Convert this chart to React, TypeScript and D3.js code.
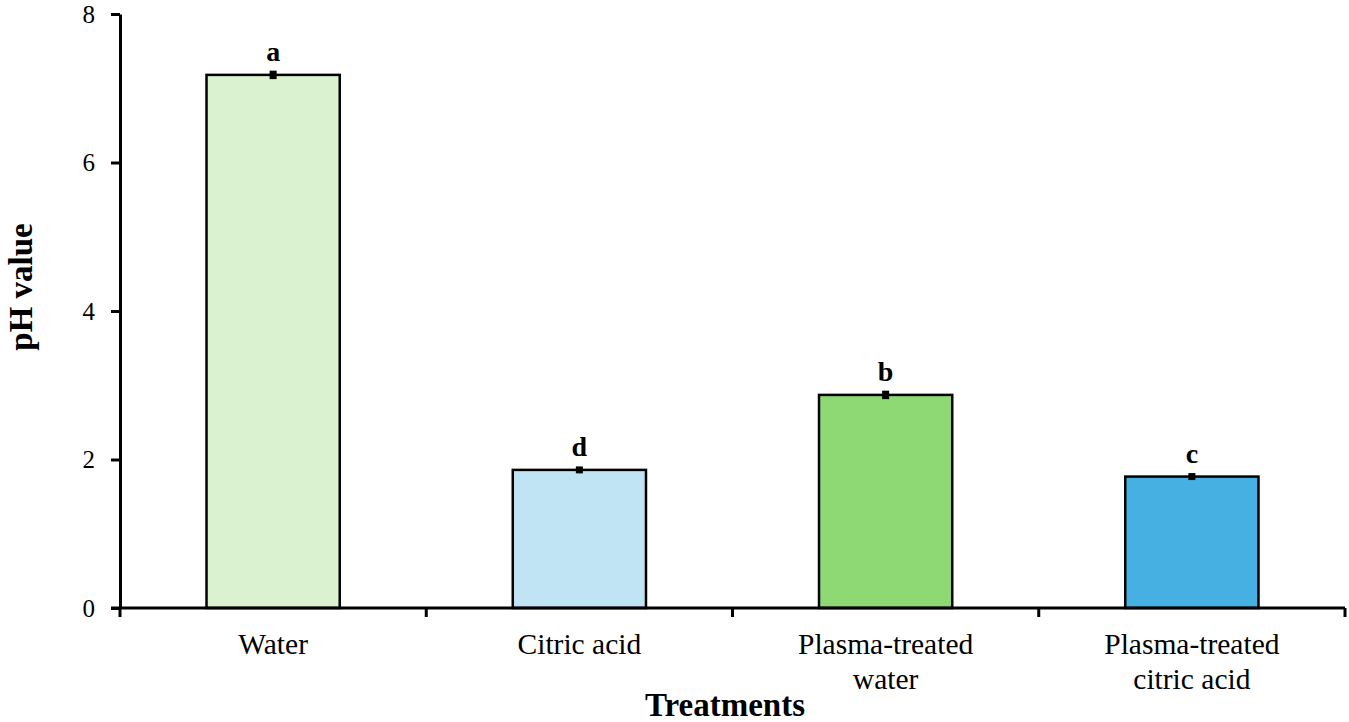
import { useEffect, useRef } from "react";
import * as d3 from "d3";

const categories = ["Water", "Citric acid", "Plasma-treated water", "Plasma-treated citric acid"];
const categoryLines = [["Water"], ["Citric acid"], ["Plasma-treated", "water"], ["Plasma-treated", "citric acid"]];
const phValues = [7.18, 1.86, 2.87, 1.77];
const phErrors = [0.03, 0.02, 0.03, 0.02];
const letters = ["a", "d", "b", "c"];
const barColors = ["#daf2d0", "#c1e4f5", "#8ed973", "#45b0e1"];
const yTicks = [0, 2, 4, 6, 8];

const W = 1349;
const H = 722;
const MARGIN = { top: 14, right: 4, bottom: 114, left: 120 };
const FONT = "'Liberation Serif', 'Times New Roman', serif";

export default function App() {
  const xAxisRef = useRef<SVGGElement>(null);
  const yAxisRef = useRef<SVGGElement>(null);

  const innerW = W - MARGIN.left - MARGIN.right;
  const innerH = H - MARGIN.top - MARGIN.bottom;

  const x = d3.scaleBand().domain(categories).range([0, innerW]).paddingInner(0).paddingOuter(0);
  const y = d3.scaleLinear().domain([0, 8]).range([innerH, 0]);
  const barW = x.bandwidth() * 0.435;

  useEffect(() => {
    if (!yAxisRef.current) return;
    d3.select(yAxisRef.current)
      .call(d3.axisLeft(y).tickValues(yTicks).tickSize(9).tickSizeOuter(0).tickPadding(16))
      .attr("font-family", FONT)
      .call((g) => g.select(".domain").attr("stroke", "#000").attr("stroke-width", 3))
      .call((g) => g.selectAll(".tick line").attr("stroke", "#000").attr("stroke-width", 3))
      .call((g) =>
        g
          .selectAll<SVGTextElement, unknown>(".tick text")
          .attr("fill", "#000")
          .attr("font-size", 25)
          .attr("font-family", FONT)
      );
  }, []);

  useEffect(() => {
    if (!xAxisRef.current) return;
    const g = d3.select(xAxisRef.current);
    g.selectAll("*").remove();
    g.append("line")
      .attr("x1", -9)
      .attr("x2", innerW)
      .attr("stroke", "#000")
      .attr("stroke-width", 3);
    const bounds = categories.map((c) => x(c) ?? 0).concat([innerW]);
    g.selectAll("line.tk")
      .data(bounds)
      .join("line")
      .attr("class", "tk")
      .attr("x1", (d) => d)
      .attr("x2", (d) => d)
      .attr("y1", 0)
      .attr("y2", 9)
      .attr("stroke", "#000")
      .attr("stroke-width", 3);
  }, []);

  return (
    <svg
      width={W}
      height={H}
      style={{ position: "absolute", left: 0, top: 0, background: "#fff" }}
      fontFamily={FONT}
    >
      <g transform={`translate(${MARGIN.left},${MARGIN.top})`}>
        {/* Bars */}
        {categories.map((c, i) => {
          const cx = (x(c) ?? 0) + x.bandwidth() / 2;
          const top = y(phValues[i]);
          return (
            <g key={c}>
              <rect
                x={cx - barW / 2}
                y={top}
                width={barW}
                height={innerH - top}
                fill={barColors[i]}
                stroke="#000"
                strokeWidth={2.5}
              />
              {/* Error bar */}
              <line
                x1={cx}
                x2={cx}
                y1={y(phValues[i] - phErrors[i])}
                y2={y(phValues[i] + phErrors[i])}
                stroke="#000"
                strokeWidth={2.5}
              />
              <rect
                x={cx - 3.5}
                y={y(phValues[i] + phErrors[i]) - 2}
                width={7}
                height={y(phValues[i] - phErrors[i]) - y(phValues[i] + phErrors[i]) + 4}
                fill="#000"
              />
              <text
                x={cx}
                y={y(phValues[i] + phErrors[i]) - 12}
                textAnchor="middle"
                fontSize={28}
                fontWeight="bold"
              >
                {letters[i]}
              </text>
            </g>
          );
        })}

        {/* Category labels */}
        {categories.map((c, i) => {
          const cx = (x(c) ?? 0) + x.bandwidth() / 2;
          return (
            <text key={c} x={cx} y={innerH + 46} textAnchor="middle" fontSize={29.5}>
              {categoryLines[i].map((line, j) => (
                <tspan key={j} x={cx} dy={j === 0 ? 0 : 35}>
                  {line}
                </tspan>
              ))}
            </text>
          );
        })}

        <g ref={xAxisRef} transform={`translate(0,${innerH})`} />
        <g ref={yAxisRef} />
      </g>

      {/* Axis titles */}
      <text x={725} y={716} textAnchor="middle" fontSize={33} fontWeight="bold">
        Treatments
      </text>
      <text
        transform={`translate(32,287) rotate(-90)`}
        textAnchor="middle"
        fontSize={33}
        fontWeight="bold"
      >
        pH value
      </text>
    </svg>
  );
}
